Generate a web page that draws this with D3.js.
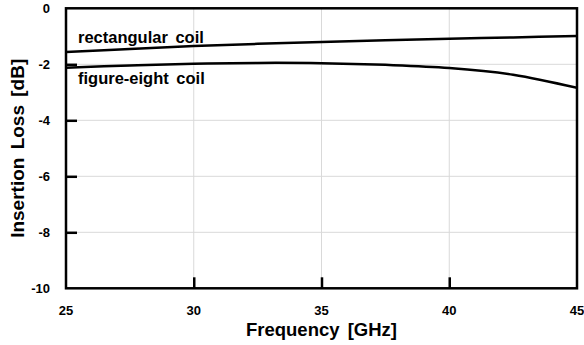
<!DOCTYPE html>
<html><head><meta charset="utf-8">
<script src="https://cdn.jsdelivr.net/npm/d3@7"></script>
<style>
html,body{margin:0;padding:0;background:#fff;}
svg{display:block;font-family:"Liberation Sans",Arial,sans-serif;font-weight:bold;}
</style></head>
<body>
<svg id="chart" width="584" height="345"></svg>
<script>
const frequency = [25, 27.5, 30, 32.5, 35, 37.5, 40, 42.5, 45];
const rectangularCoil = [-1.56, -1.45, -1.35, -1.27, -1.2, -1.14, -1.09, -1.04, -0.99];
const figureEightCoil = [-2.12, -2.04, -1.98, -1.95, -1.96, -2.02, -2.13, -2.37, -2.84];
const xTicks = [25, 30, 35, 40, 45];
const yTicks = [0, -2, -4, -6, -8, -10];
const seriesNames = ["rectangular coil", "figure-eight coil"];
const xTitle = "Frequency [GHz]";
const yTitle = "Insertion Loss [dB]";

const svg = d3.select("#chart");
const L = 66, R = 577, T = 8.3, B = 288.3;
const x = d3.scaleLinear().domain([25, 45]).range([L, R]);
const y = d3.scaleLinear().domain([-10, 0]).range([B, T]);

// gridlines
const g = svg.append("g");
g.selectAll(".vg").data(xTicks.slice(1, -1)).enter().append("line")
  .attr("x1", d => x(d)).attr("x2", d => x(d)).attr("y1", T).attr("y2", B)
  .attr("stroke", "#d9d9d9").attr("stroke-width", 1);
g.selectAll(".hg").data(yTicks.slice(1, -1)).enter().append("line")
  .attr("x1", L).attr("x2", R).attr("y1", d => y(d)).attr("y2", d => y(d))
  .attr("stroke", "#d9d9d9").attr("stroke-width", 1);

// axes with inward ticks
const xAxis = svg.append("g").attr("transform", `translate(0,${B})`)
  .call(d3.axisBottom(x).tickValues(xTicks.slice(1, -1)).tickSizeInner(-11).tickSizeOuter(0).tickFormat(""));
xAxis.select(".domain").remove();
xAxis.selectAll("line").attr("stroke", "#000").attr("stroke-width", 2.5);

const yAxis = svg.append("g").attr("transform", `translate(${L},0)`)
  .call(d3.axisLeft(y).tickValues(yTicks.slice(1, -1)).tickSizeInner(-11).tickSizeOuter(0).tickFormat(""));
yAxis.select(".domain").remove();
yAxis.selectAll("line").attr("stroke", "#000").attr("stroke-width", 2.5);

// tick labels
svg.append("g").selectAll("text").data(xTicks).enter().append("text")
  .attr("x", d => x(d)).attr("y", 314.5).attr("text-anchor", "middle")
  .attr("font-size", 13).text(d => d);
svg.append("g").selectAll("text").data(yTicks).enter().append("text")
  .attr("x", 50).attr("y", d => y(d) + 5).attr("text-anchor", "end")
  .attr("font-size", 13).text(d => d);

// lines
const line = d3.line().x((d, i) => x(frequency[i])).y(d => y(d)).curve(d3.curveCatmullRom.alpha(0.5));
svg.append("defs").append("clipPath").attr("id", "clip").append("rect")
  .attr("x", L).attr("y", T).attr("width", R - L).attr("height", B - T);
[rectangularCoil, figureEightCoil].forEach(s => {
  svg.append("path").datum(s).attr("d", line).attr("fill", "none")
    .attr("stroke", "#000").attr("stroke-width", 2.5).attr("clip-path", "url(#clip)");
});

// frame
svg.append("rect").attr("x", L).attr("y", T).attr("width", R - L).attr("height", B - T)
  .attr("fill", "none").attr("stroke", "#000").attr("stroke-width", 2.5);

// series labels
svg.append("text").attr("x", 78).attr("y", 42.5).attr("font-size", 16.5)
  .attr("word-spacing", 3).text(seriesNames[0]);
svg.append("text").attr("x", 78).attr("y", 84).attr("font-size", 16.5)
  .attr("word-spacing", 3).text(seriesNames[1]);

// axis titles
svg.append("text").attr("x", (L + R) / 2).attr("y", 335.5).attr("text-anchor", "middle")
  .attr("font-size", 18.5).attr("word-spacing", 3).text(xTitle);
svg.append("text").attr("transform", `translate(24,${(T + B) / 2}) rotate(-90)`)
  .attr("text-anchor", "middle").attr("font-size", 19).attr("word-spacing", 3).text(yTitle);
</script>
</body></html>
